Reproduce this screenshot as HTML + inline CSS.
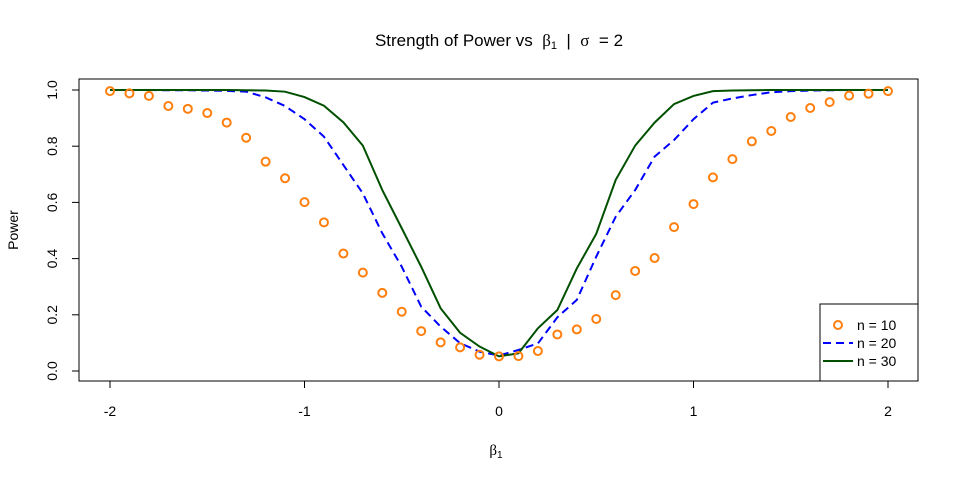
<!DOCTYPE html>
<html><head><meta charset="utf-8"><style>
body{margin:0;background:#fff;}
svg text{font-family:"Liberation Sans",sans-serif;fill:#000;}
</style></head><body>
<svg id="chart" width="960" height="480" xmlns="http://www.w3.org/2000/svg">
<text x="499" y="46" font-size="17" text-anchor="middle">Strength of Power vs&#160;&#160;<tspan font-family="Liberation Serif">β</tspan><tspan font-size="11" dy="3">1</tspan><tspan dy="-3">&#160;&#160;|&#160;&#160;</tspan><tspan font-family="Liberation Serif">σ</tspan>&#160;&#160;= 2</text>
<rect x="79" y="79" width="839" height="302" fill="none" stroke="#000" stroke-width="1"/>
<g id="xaxis"></g>
<g id="yaxis"></g>
<text transform="translate(18,230) rotate(-90)" font-size="14" text-anchor="middle">Power</text>
<text x="496" y="455" font-size="15" text-anchor="middle"><tspan font-family="Liberation Serif">β</tspan><tspan font-size="10" dy="3">1</tspan></text>
<g id="series"></g>
<g>
<rect x="820" y="304" width="98" height="77" fill="#fff" stroke="#000"/>
<circle cx="838" cy="325" r="4" fill="none" stroke="#ff7f0e" stroke-width="2"/>
<text x="857" y="330" font-size="14">n = 10</text>
<line x1="823" y1="343" x2="853" y2="343" stroke="#0000ff" stroke-width="2" stroke-dasharray="8,5"/>
<text x="857" y="348" font-size="14">n = 20</text>
<line x1="823" y1="361" x2="853" y2="361" stroke="#005000" stroke-width="2"/>
<text x="857" y="366" font-size="14">n = 30</text>
</g>
</svg>
<script>
const betas=[-2,-1.9,-1.8,-1.7,-1.6,-1.5,-1.4,-1.3,-1.2,-1.1,-1,-0.9,-0.8,-0.7,-0.6,-0.5,-0.4,-0.3,-0.2,-0.1,0,0.1,0.2,0.3,0.4,0.5,0.6,0.7,0.8,0.9,1,1.1,1.2,1.3,1.4,1.5,1.6,1.7,1.8,1.9,2];
const power10=[0.996,0.988,0.979,0.943,0.933,0.918,0.884,0.830,0.745,0.686,0.601,0.529,0.418,0.350,0.278,0.211,0.142,0.102,0.084,0.058,0.052,0.053,0.071,0.130,0.148,0.185,0.270,0.356,0.402,0.512,0.594,0.689,0.754,0.817,0.854,0.904,0.936,0.957,0.980,0.987,0.996];
const power20=[1,1,1,0.999,0.999,0.998,0.997,0.994,0.974,0.943,0.896,0.834,0.733,0.632,0.490,0.371,0.229,0.158,0.099,0.069,0.055,0.075,0.098,0.191,0.253,0.407,0.549,0.644,0.763,0.822,0.896,0.955,0.970,0.982,0.992,0.996,0.998,0.999,1,1,1];
const power30=[1,1,1,1,1,1,1,0.999,0.998,0.994,0.975,0.944,0.885,0.802,0.644,0.508,0.371,0.223,0.136,0.087,0.052,0.063,0.152,0.217,0.365,0.488,0.680,0.802,0.884,0.950,0.979,0.996,0.998,0.999,1,1,1,1,1,1,1];
const xTicks=[-2,-1,0,1,2];
const yTicks=[0,0.2,0.4,0.6,0.8,1.0];
const NS="http://www.w3.org/2000/svg";
const xs=v=>499+v*194.5, ys=v=>371-v*281;
function mk(t,a,p){const e=document.createElementNS(NS,t);for(const k in a)e.setAttribute(k,a[k]);p.appendChild(e);return e;}
const xa=document.getElementById('xaxis'),ya=document.getElementById('yaxis'),sg=document.getElementById('series');
mk('line',{x1:xs(-2),x2:xs(2),y1:381,y2:381,stroke:'#000'},xa);
xTicks.forEach(v=>{const l=mk('line',{x1:xs(v),x2:xs(v),y1:381,y2:388,stroke:'#000'},xa);


const t=mk('text',{x:xs(v),y:416,'font-size':14,'text-anchor':'middle'},xa);t.textContent=String(v);

});
mk('line',{x1:79,x2:79,y1:ys(0),y2:ys(1),stroke:'#000'},ya);
yTicks.forEach(v=>{const l=mk('line',{x1:72,x2:79,y1:ys(v),y2:ys(v),stroke:'#000'},ya);


const t=mk('text',{transform:`translate(57,${ys(v)}) rotate(-90)`,'font-size':14,'text-anchor':'middle'},ya);t.textContent=v.toFixed(1);

});
const p20=mk('polyline',{points:betas.map((b,i)=>xs(b)+','+ys(power20[i])).join(' '),fill:'none',stroke:'#0000ff','stroke-width':2,'stroke-dasharray':'8,5'},sg);


const p30=mk('polyline',{points:betas.map((b,i)=>xs(b)+','+ys(power30[i])).join(' '),fill:'none',stroke:'#005000','stroke-width':2},sg);


betas.forEach((b,i)=>{const c=mk('circle',{cx:xs(b),cy:ys(power10[i]),r:4,fill:'none',stroke:'#ff7f0e','stroke-width':2},sg);

});
</script>
</body></html>
